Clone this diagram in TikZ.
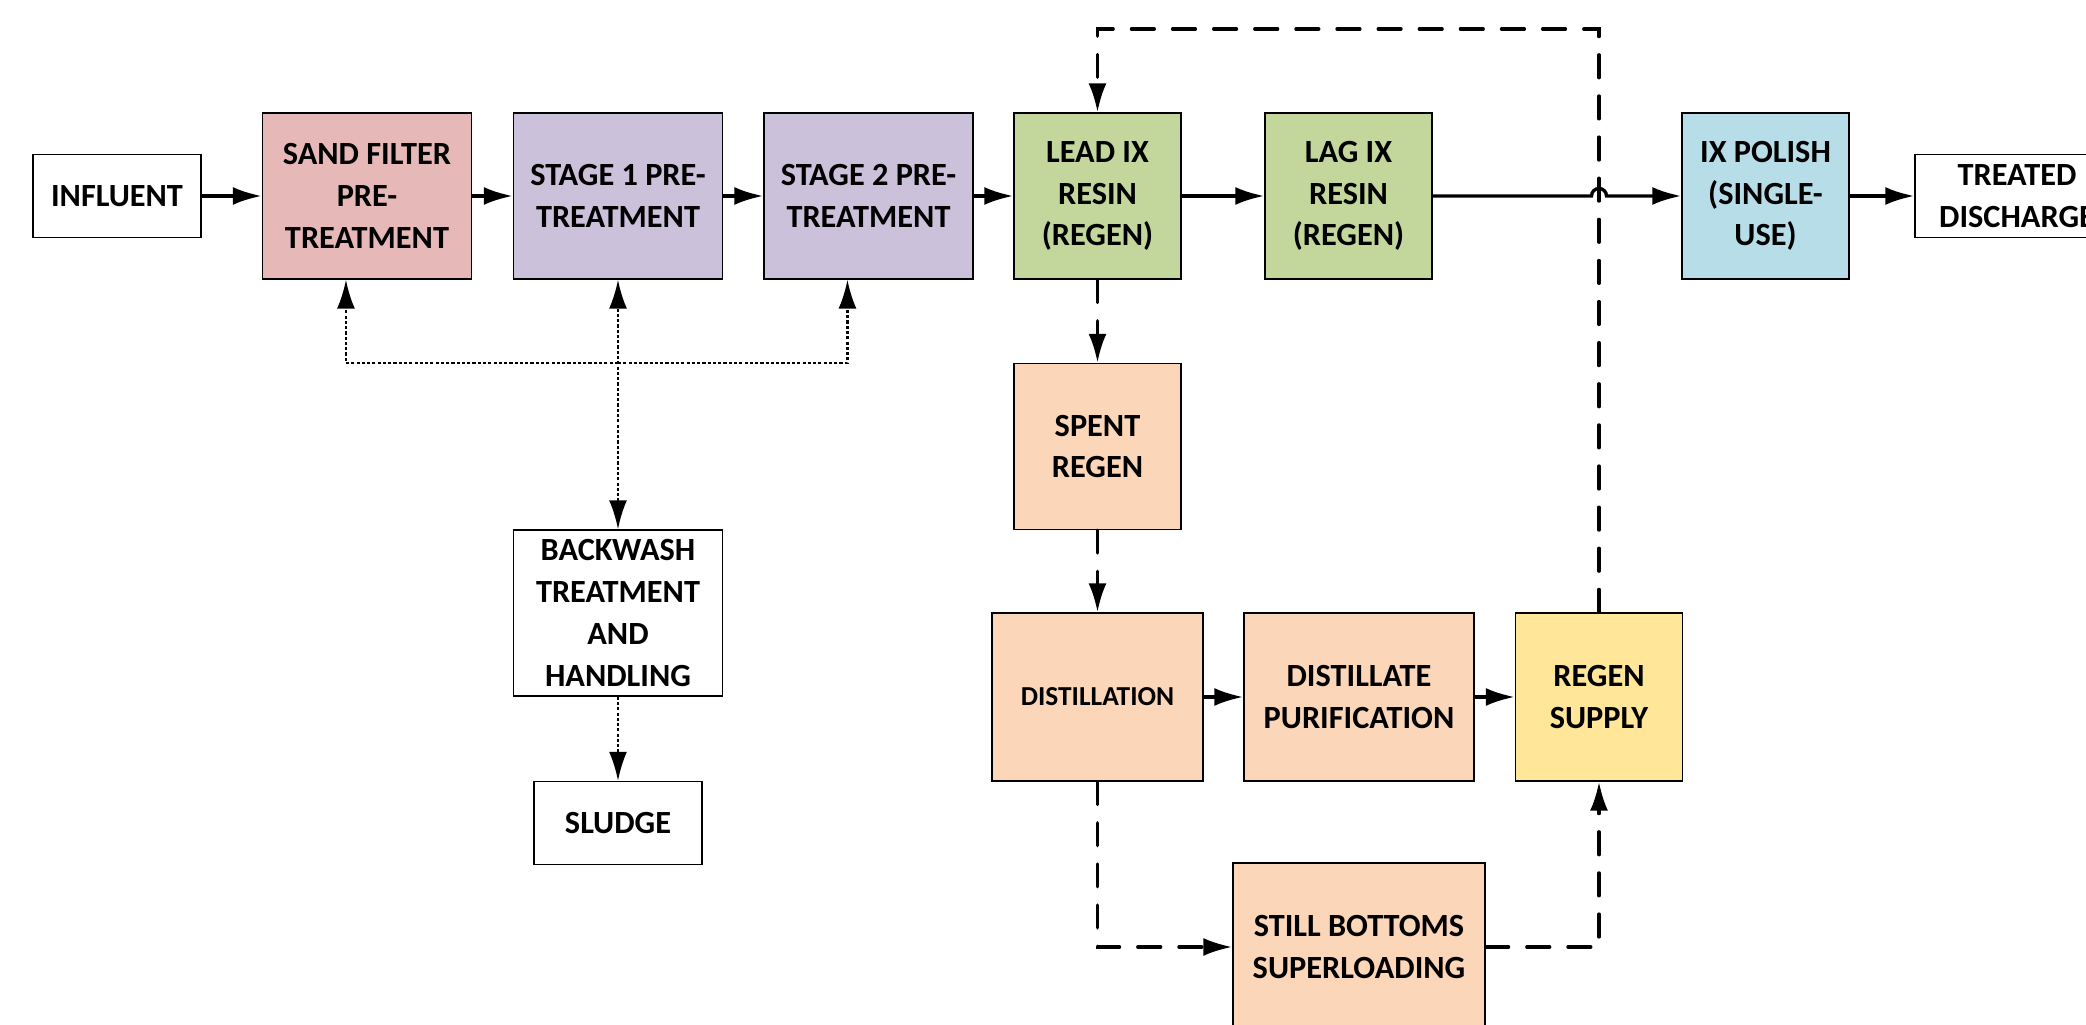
\documentclass[tikz,border=0pt]{standalone}
\usepackage{fontspec}
\setmainfont{Carlito}
\usepackage{tikz}
\usetikzlibrary{shapes,arrows.meta,calc}

\definecolor{sandred}{HTML}{E6B9B8}
\definecolor{stagepurple}{HTML}{CCC1DA}
\definecolor{resingreen}{HTML}{C3D69B}
\definecolor{polishblue}{HTML}{B7DEE8}
\definecolor{regenpeach}{HTML}{FBD6B8}
\definecolor{supplyyellow}{HTML}{FFE699}

\begin{document}
\begin{tikzpicture}[>={Latex[length=2.9mm,width=1.8mm]},
  every node/.style={draw, thin, rectangle, align=center, inner sep=1pt, font=\fontsize{9.2}{11.9}\selectfont\bfseries},
  wide/.style={minimum width=2.09cm, minimum height=1.66cm},
  narrow/.style={minimum width=1.67cm, minimum height=1.66cm},
  flat/.style={minimum width=1.68cm, minimum height=0.83cm},
  flowline/.style={->, line width=0.95pt},
  regenline/.style={->, line width=0.95pt, line cap=round, dash pattern=on 6.5pt off 5.2pt},
  washline/.style={line width=0.7pt, dash pattern=on 0.9pt off 0.6pt}]
  \clip (0,0) rectangle (20.86,10.25);

  % Main Line
  \node[flat] (influent) at (1.17,8.29) {INFLUENT};
  \node[wide, fill=sandred] (sand) at (3.67,8.29) {SAND FILTER\\PRE-\\TREATMENT};
  \node[wide, fill=stagepurple] (stage1) at (6.18,8.29) {STAGE 1 PRE-\\TREATMENT};
  \node[wide, fill=stagepurple] (stage2) at (8.685,8.29) {STAGE 2 PRE-\\TREATMENT};
  \node[narrow, fill=resingreen] (lead) at (10.975,8.29) {LEAD IX\\RESIN\\(REGEN)};
  \node[narrow, fill=resingreen] (lag) at (13.485,8.29) {LAG IX\\RESIN\\(REGEN)};
  \node[narrow, fill=polishblue] (polish) at (17.655,8.29) {IX POLISH\\(SINGLE-\\USE)};
  \node[flat, minimum width=2.04cm] (treated) at (20.17,8.29) {TREATED\\DISCHARGE};

  % Backwash
  \node[wide] (bwash) at (6.18,4.12) {BACKWASH\\TREATMENT\\AND\\HANDLING};
  \node[flat] (sludge) at (6.18,2.02) {SLUDGE};

  % Regeneration
  \node[narrow, fill=regenpeach] (spent) at (10.975,5.785) {SPENT\\REGEN};
  \node[minimum width=2.11cm, minimum height=1.68cm, fill=regenpeach, font=\fontsize{7.8}{10}\selectfont\bfseries] (distill) at (10.975,3.28) {DISTILLATION};
  \node[minimum width=2.30cm, minimum height=1.68cm, fill=regenpeach] (purif) at (13.59,3.28) {DISTILLATE\\PURIFICATION};
  \node[narrow, minimum height=1.68cm, fill=supplyyellow] (regen) at (15.99,3.28) {REGEN\\SUPPLY};
  \node[minimum width=2.52cm, minimum height=1.68cm, fill=regenpeach] (still) at (13.59,0.78) {STILL BOTTOMS\\SUPERLOADING};

  \coordinate (hopL) at (15.915,8.29);
  \coordinate (loopTop) at (15.99,9.96);
  \coordinate (washMid) at (6.18,6.62);
  \coordinate (sandIn) at ($(sand.south west)!0.4!(sand.south east)$);
  \coordinate (stage2In) at ($(stage2.south west)!0.4!(stage2.south east)$);

  % Arrows
  \draw[flowline] (influent) -- (sand);
  \draw[flowline] (sand) -- (stage1);
  \draw[flowline] (stage1) -- (stage2);
  \draw[flowline] (stage2) -- (lead);
  \draw[flowline] (lead) -- (lag);
  \draw[flowline] (lag) -- (hopL) arc[start angle=180, end angle=0, radius=0.075] -- (polish);
  \draw[flowline] (polish) -- (treated);

  \draw[washline, <->] (bwash) -- (stage1);
  \draw[washline, ->] (washMid) -| (sandIn);
  \draw[washline, ->] (washMid) -| (stage2In);
  \draw[washline, ->] (bwash) -- (sludge);

  \draw[regenline] (lead) -- (spent);
  \draw[regenline] (spent) -- (distill);
  \draw[flowline] (distill) -- (purif);
  \draw[flowline] (purif) -- (regen);
  \draw[regenline] (distill) |- (still);
  \draw[regenline] (still) -| (regen);
  \draw[regenline] (regen) -- (loopTop) -| (lead);
\end{tikzpicture}
\end{document}
